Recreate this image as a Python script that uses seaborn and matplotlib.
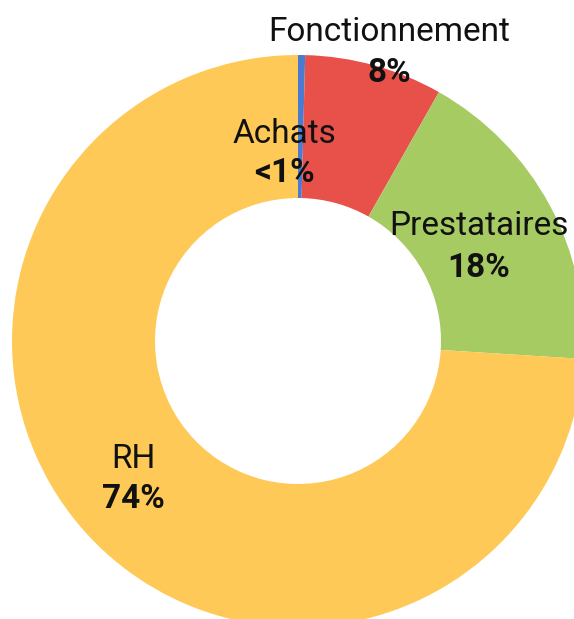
import matplotlib
matplotlib.use('Agg')
import matplotlib.pyplot as plt
import seaborn as sns

labels = ['Achats', 'Fonctionnement', 'Prestataires', 'RH']
values = [0.4, 7.8, 17.8, 74.0]
pct_text = ['<1%', '8%', '18%', '74%']
colors = ['#4A7BD0', '#E8514A', '#A6CB63', '#FEC957']

sns.set_theme(style='white')
plt.rcParams['font.family'] = ['Roboto', 'DejaVu Sans']

fig = plt.figure(figsize=(5.74, 6.19), dpi=100)
ax = fig.add_axes([0, 0, 1, 1])

# pixel-like coordinates: y grows upward, so centre sits at -341
ax.pie(values, colors=colors, radius=286, center=(298, -341),
       startangle=90, counterclock=False,
       wedgeprops=dict(width=143, linewidth=0))

ax.set_xlim(0, 574)
ax.set_ylim(-619, 0)
ax.set_aspect('equal')
ax.axis('off')

# label baselines in pixels: (x, name baseline, pct baseline)
label_pos = [(284, 143, 182), (389, 41, 82), (479, 235, 277), (133, 468, 508)]
for name, pct, (x, y1, y2) in zip(labels, pct_text, label_pos):
    ax.text(x, -y1, name, ha='center', va='baseline', fontsize=24, color='#111111')
    ax.text(x, -y2, pct, ha='center', va='baseline',
            fontsize=24, fontweight='bold', color='#111111')

fig.savefig('out.png', dpi=100)
plt.close()
